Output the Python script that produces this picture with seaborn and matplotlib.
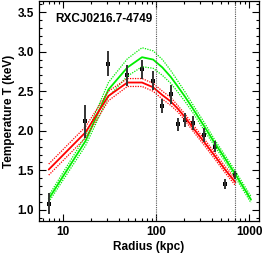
import numpy as np
import pandas as pd
import seaborn as sns
import matplotlib
matplotlib.use("Agg")
import matplotlib.pyplot as plt
from matplotlib.ticker import MultipleLocator, LogLocator, FixedLocator, NullFormatter

# Measured temperature profile
radius = [7.0, 17.4, 30.7, 49.1, 70.6, 92.9, 117, 144, 171, 205, 252, 328, 430, 552, 713]
temp = [1.08, 2.12, 2.85, 2.70, 2.78, 2.63, 2.31, 2.46, 2.08, 2.14, 2.10, 1.95, 1.80, 1.33, 1.44]
temp_err = [0.13, 0.21, 0.16, 0.13, 0.12, 0.12, 0.09, 0.12, 0.08, 0.09, 0.09, 0.09, 0.07, 0.06, 0.05]

# Model profiles (red: projected, green: 3D)
red_r = radius
red_t = [1.51, 1.98, 2.44, 2.61, 2.61, 2.55, 2.45, 2.37, 2.28, 2.17, 2.03, 1.86, 1.68, 1.51, 1.35]
red_err = [0.07, 0.07, 0.06, 0.05, 0.05, 0.05, 0.05, 0.05, 0.04, 0.04, 0.04, 0.04, 0.04, 0.04, 0.04]

green_r = radius + [1050]
green_t = [1.14, 1.87, 2.52, 2.80, 2.93, 2.90, 2.80, 2.68, 2.56, 2.43, 2.27, 2.06, 1.84, 1.65, 1.45, 1.13]
green_err = [0.04, 0.06, 0.09, 0.11, 0.12, 0.11, 0.10, 0.08, 0.07, 0.06, 0.05, 0.05, 0.04, 0.04, 0.04, 0.04]

vlines_r = [100, 713]
title = "RXCJ0216.7-4749"

sns.set_style("ticks")
plt.rcParams["font.family"] = ["Liberation Sans", "DejaVu Sans"]
plt.rcParams["font.weight"] = "bold"
plt.rcParams["text.color"] = "black"
plt.rcParams["axes.labelcolor"] = "black"
plt.rcParams["xtick.color"] = "black"
plt.rcParams["ytick.color"] = "black"

fig = plt.figure(figsize=(2.66, 2.54), dpi=100)
ax = fig.add_axes([0.1466, 0.13, 0.8271, 0.866])

red_df = pd.DataFrame({"r": red_r, "t": red_t, "e": red_err})
green_df = pd.DataFrame({"r": green_r, "t": green_t, "e": green_err})

for df, col in [(green_df, "#00ee00"), (red_df, "#ff0000")]:
    sns.lineplot(x=df["r"], y=df["t"], ax=ax, color=col, lw=1.3, estimator=None, sort=False)
    sns.lineplot(x=df["r"], y=df["t"] + df["e"], ax=ax, color=col, lw=0.9,
                 linestyle=(0, (1, 1)), estimator=None, sort=False)
    sns.lineplot(x=df["r"], y=df["t"] - df["e"], ax=ax, color=col, lw=0.9,
                 linestyle=(0, (1, 1)), estimator=None, sort=False)

for v in vlines_r:
    ax.axvline(v, color="#555555", lw=0.8, linestyle=(0, (1, 1)))

ax.errorbar(radius, temp, yerr=temp_err, fmt="none", ecolor="#333333", elinewidth=1.4, capsize=0)
sns.scatterplot(x=radius, y=temp, ax=ax, color="black", marker="s", s=8, linewidth=0)

ax.set_xscale("log")
ax.set_xlim(5.5, 1280)
ax.set_ylim(0.86, 3.64)
ax.xaxis.set_major_locator(FixedLocator([10, 100, 1000]))
ax.set_xticklabels(["10", "100", "1000"])
ax.xaxis.set_minor_locator(LogLocator(base=10, subs=np.arange(2, 10)))
ax.xaxis.set_minor_formatter(NullFormatter())
ax.yaxis.set_major_locator(MultipleLocator(0.5))
ax.yaxis.set_minor_locator(MultipleLocator(0.1))
ax.tick_params(which="both", direction="in", top=True, right=True, labelsize=8.5, width=0.8)
ax.tick_params(which="major", length=5)
ax.tick_params(which="minor", length=2.5)
for s in ax.spines.values():
    s.set_linewidth(0.9)
    s.set_color("black")

ax.set_xlabel("Radius (kpc)", fontsize=8.5, fontweight="bold", labelpad=2)
ax.set_ylabel("Temperature T (keV)", fontsize=8.5, fontweight="bold", labelpad=2)
ax.text(0.075, 0.945, title, transform=ax.transAxes, fontsize=8.5, fontweight="bold",
        va="top", ha="left")

fig.savefig("out.png", dpi=100)
